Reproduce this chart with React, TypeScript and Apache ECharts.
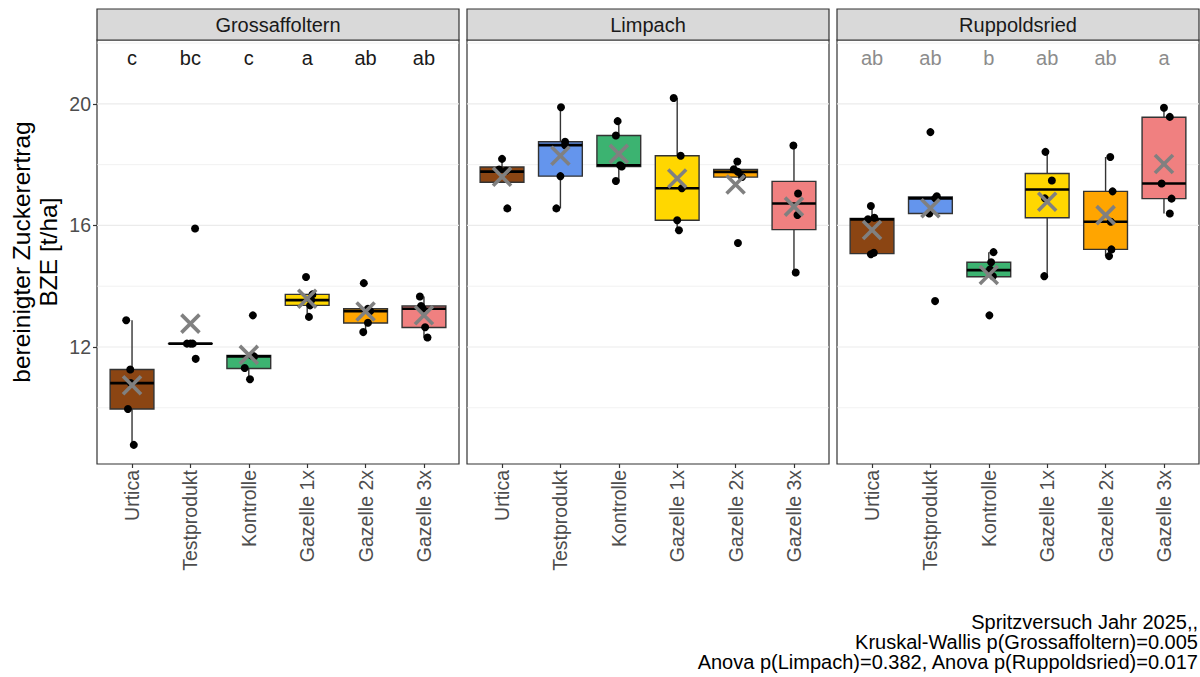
import React, { useEffect, useRef } from "react";
import * as echarts from "echarts";

// ---------- data ----------
const siteNames = ["Grossaffoltern", "Limpach", "Ruppoldsried"];
const treatments = ["Urtica", "Testprodukt", "Kontrolle", "Gazelle 1x", "Gazelle 2x", "Gazelle 3x"];
const fillColors = ["#8B4513", "#6495ED", "#3CB371", "#FFD700", "#FFA500", "#F08080"];
const yTickValues = [12, 16, 20];
const majorGrid = [12, 16, 20];
const minorGrid = [10, 14, 18, 22];

// box stats: [lower whisker, Q1, median, Q3, upper whisker]
const boxGross = [
  [8.78, 9.96, 10.81, 11.26, 12.88],
  [12.11, 12.11, 12.11, 12.11, 12.11],
  [10.94, 11.29, 11.69, 11.72, 11.72],
  [12.99, 13.37, 13.54, 13.73, 13.73],
  [12.49, 12.79, 13.18, 13.26, 13.26],
  [12.31, 12.64, 13.26, 13.35, 13.66],
];
const boxLimpach = [
  [17.42, 17.42, 17.77, 17.92, 18.19],
  [16.56, 17.62, 18.64, 18.75, 19.89],
  [17.46, 17.94, 17.98, 18.96, 19.43],
  [15.84, 16.17, 17.22, 18.29, 20.19],
  [17.59, 17.59, 17.76, 17.84, 18.1],
  [14.45, 15.86, 16.72, 17.45, 18.63],
];
const boxRupp = [
  [15.07, 15.07, 16.2, 16.23, 16.64],
  [16.39, 16.39, 16.89, 16.94, 16.94],
  [14.31, 14.31, 14.53, 14.79, 15.12],
  [14.33, 16.25, 17.18, 17.71, 18.42],
  [14.99, 15.21, 16.12, 17.12, 18.25],
  [16.39, 16.88, 17.38, 19.56, 19.87],
];

// individual plots (values) and their horizontal jitter (category units)
const ptsGross = [
  [12.88, 11.26, 10.81, 9.96, 8.78],
  [15.9, 12.11, 12.11, 12.11, 11.61],
  [13.04, 11.72, 11.69, 11.31, 10.94],
  [14.3, 13.73, 13.54, 13.37, 12.99],
  [14.1, 13.26, 13.18, 12.8, 12.49],
  [13.66, 13.35, 13.26, 12.65, 12.31],
];
const jitGross = [
  [-0.1, -0.03, -0.02, -0.07, 0.03],
  [0.08, 0.0, 0.04, -0.06, 0.09],
  [0.07, 0.05, 0.09, -0.07, 0.02],
  [-0.02, 0.09, 0.07, 0.05, 0.03],
  [-0.03, 0.04, 0.08, 0.04, -0.04],
  [-0.07, -0.05, -0.02, 0.02, 0.06],
];
const ptsLimpach = [
  [18.19, 17.84, 17.8, 16.56],
  [19.89, 18.75, 18.64, 17.62, 16.56],
  [19.43, 18.96, 17.98, 17.94, 17.46],
  [20.19, 18.29, 17.22, 16.17, 15.84],
  [18.1, 17.85, 17.76, 17.59, 15.42],
  [18.63, 17.05, 16.34, 14.45],
];
const jitLimpach = [
  [0.0, -0.05, 0.07, 0.09],
  [0.01, 0.08, 0.08, 0.0, -0.07],
  [-0.02, -0.05, 0.02, 0.05, -0.05],
  [-0.06, 0.06, 0.08, 0.0, 0.03],
  [0.03, -0.03, 0.04, 0.11, 0.04],
  [-0.01, 0.07, 0.06, 0.03],
];
const ptsRupp = [
  [16.64, 16.25, 16.2, 15.1, 15.05],
  [19.07, 16.96, 16.89, 16.39, 13.51],
  [15.12, 14.79, 14.55, 14.33, 13.04],
  [18.42, 17.48, 16.89, 14.33],
  [18.25, 17.12, 16.12, 15.21, 14.99],
  [19.87, 19.57, 17.38, 16.88, 16.39],
];
const jitRupp = [
  [-0.02, 0.04, -0.07, 0.03, -0.02],
  [0.0, 0.11, 0.08, -0.02, 0.08],
  [0.08, 0.04, 0.02, 0.07, 0.01],
  [-0.03, 0.08, -0.04, -0.05],
  [0.08, 0.12, 0.09, 0.1, 0.06],
  [0.0, 0.1, -0.04, 0.13, 0.1],
];

const lettersGross = ["c", "bc", "c", "a", "ab", "ab"];
const lettersLimpach: string[] = [];
const lettersRupp = ["ab", "ab", "b", "ab", "ab", "a"];
const letterColors = ["#1A1A1A", "#1A1A1A", "#8C8C8C"];
const letterY = 21.5;

const captionLines = [
  "Spritzversuch Jahr 2025,,",
  "Kruskal-Wallis p(Grossaffoltern)=0.005",
  "Anova p(Limpach)=0.382, Anova p(Ruppoldsried)=0.017",
];
const yTitle = ["bereinigter Zuckerertrag", "BZE [t/ha]"];

// ---------- layout ----------
const FONT = '"Liberation Sans", Arial, Helvetica, sans-serif';
const gridLefts = [97, 467, 837];
const gridWidth = 362;
const gridTop = 40;
const gridHeight = 424;
const stripTop = 9;
const stripHeight = 31;
const yMin = 8.15;
const yMax = 22.1;

const boxesAll = [boxGross, boxLimpach, boxRupp];
const ptsAll = [ptsGross, ptsLimpach, ptsRupp];
const jitAll = [jitGross, jitLimpach, jitRupp];
const lettersAll = [lettersGross, lettersLimpach, lettersRupp];

function buildOption() {
  const grids: any[] = [];
  const xAxes: any[] = [];
  const yAxes: any[] = [];
  const series: any[] = [];
  const catIdx = treatments.map((_, i) => i);

  for (let k = 0; k < 3; k++) {
    grids.push({
      left: gridLefts[k],
      top: gridTop,
      width: gridWidth,
      height: gridHeight,
      show: true,
      backgroundColor: "#FFFFFF",
      borderColor: "#333333",
      borderWidth: 1.2,
    });
    xAxes.push({
      type: "value",
      gridIndex: k,
      min: -0.6,
      max: 5.6,
      position: "bottom",
      axisLine: { show: false, onZero: false },
      splitLine: { show: false },
      axisTick: {
        show: true,
        customValues: catIdx,
        length: 4,
        lineStyle: { color: "#333333", width: 1.2 },
      },
      axisLabel: {
        show: true,
        customValues: catIdx,
        rotate: 90,
        margin: 6,
        fontSize: 19.5,
        fontFamily: FONT,
        color: "#4D4D4D",
        formatter: (v: number) => treatments[Math.round(v)] ?? "",
      },
    });
    yAxes.push({
      type: "value",
      gridIndex: k,
      min: yMin,
      max: yMax,
      position: "left",
      axisLine: { show: false, onZero: false },
      splitLine: { show: false },
      axisTick: {
        show: k === 0,
        customValues: yTickValues,
        length: 4,
        lineStyle: { color: "#333333", width: 1.2 },
      },
      axisLabel: {
        show: k === 0,
        customValues: yTickValues,
        margin: 6,
        fontSize: 19.5,
        fontFamily: FONT,
        color: "#4D4D4D",
      },
    });

    // grid lines
    series.push({
      type: "custom",
      xAxisIndex: k,
      yAxisIndex: k,
      z: 1,
      silent: true,
      encode: { x: 0, y: 1 },
      data: [...majorGrid.map((v) => [0, v, 1]), ...minorGrid.map((v) => [0, v, 0])],
      renderItem: (params: any, api: any) => {
        const cs = params.coordSys;
        const y = api.coord([0, api.value(1)])[1];
        const major = api.value(2) === 1;
        return {
          type: "line",
          shape: { x1: cs.x, y1: y, x2: cs.x + cs.width, y2: y },
          style: { stroke: "#EBEBEB", lineWidth: major ? 1.2 : 0.7 },
        };
      },
    });

    // boxes
    series.push({
      type: "custom",
      xAxisIndex: k,
      yAxisIndex: k,
      z: 2,
      silent: true,
      encode: { x: 0, y: [1, 2, 3, 4, 5] },
      data: boxesAll[k].map((b, i) => [i, ...b, i]),
      renderItem: (_params: any, api: any) => {
        const i = api.value(0);
        const lo = api.value(1);
        const q1 = api.value(2);
        const med = api.value(3);
        const q3 = api.value(4);
        const hi = api.value(5);
        const ci = api.value(6);
        const c = api.coord([i, med]);
        const xl = api.coord([i - 0.375, med])[0];
        const xr = api.coord([i + 0.375, med])[0];
        const yLo = api.coord([i, lo])[1];
        const yQ1 = api.coord([i, q1])[1];
        const yQ3 = api.coord([i, q3])[1];
        const yHi = api.coord([i, hi])[1];
        const stroke = { stroke: "#333333", lineWidth: 1.4 };
        return {
          type: "group",
          children: [
            { type: "line", shape: { x1: c[0], y1: yQ3, x2: c[0], y2: yHi }, style: stroke },
            { type: "line", shape: { x1: c[0], y1: yQ1, x2: c[0], y2: yLo }, style: stroke },
            {
              type: "rect",
              shape: { x: xl, y: yQ3, width: xr - xl, height: Math.max(yQ1 - yQ3, 0.01) },
              style: { fill: fillColors[ci], stroke: "#333333", lineWidth: 1.4 },
            },
            {
              type: "line",
              shape: { x1: xl, y1: c[1], x2: xr, y2: c[1] },
              style: { stroke: "#000000", lineWidth: 2.6 },
            },
          ],
        };
      },
    });

    // points
    const pts: number[][] = [];
    ptsAll[k].forEach((arr, i) => {
      arr.forEach((v, j) => pts.push([i + jitAll[k][i][j], v]));
    });
    series.push({
      type: "scatter",
      xAxisIndex: k,
      yAxisIndex: k,
      z: 3,
      silent: true,
      symbol: "circle",
      symbolSize: 8,
      itemStyle: { color: "#000000", opacity: 1 },
      data: pts,
    });

    // means (X)
    const means = ptsAll[k].map((arr, i) => [i, arr.reduce((a, b) => a + b, 0) / arr.length]);
    series.push({
      type: "custom",
      xAxisIndex: k,
      yAxisIndex: k,
      z: 4,
      silent: true,
      encode: { x: 0, y: 1 },
      data: means,
      renderItem: (_params: any, api: any) => {
        const p = api.coord([api.value(0), api.value(1)]);
        const h = 9;
        const st = { stroke: "#808080", lineWidth: 3.6 };
        return {
          type: "group",
          children: [
            { type: "line", shape: { x1: p[0] - h, y1: p[1] - h, x2: p[0] + h, y2: p[1] + h }, style: st },
            { type: "line", shape: { x1: p[0] - h, y1: p[1] + h, x2: p[0] + h, y2: p[1] - h }, style: st },
          ],
        };
      },
    });

    // significance letters
    const letters = lettersAll[k];
    if (letters.length) {
      series.push({
        type: "custom",
        xAxisIndex: k,
        yAxisIndex: k,
        z: 4,
        silent: true,
        encode: { x: 0, y: 1 },
        data: letters.map((_, i) => [i, letterY]),
        renderItem: (params: any, api: any) => {
          const p = api.coord([api.value(0), api.value(1)]);
          return {
            type: "text",
            x: p[0],
            y: p[1],
            style: {
              text: letters[params.dataIndex],
              fill: letterColors[k],
              fontSize: 20,
              fontFamily: FONT,
              align: "center",
              verticalAlign: "middle",
            },
          };
        },
      });
    }
  }

  const graphics: any[] = [];
  for (let k = 0; k < 3; k++) {
    graphics.push({
      type: "rect",
      silent: true,
      shape: { x: gridLefts[k], y: stripTop, width: gridWidth, height: stripHeight },
      style: { fill: "#D9D9D9", stroke: "#333333", lineWidth: 1.2 },
    });
    graphics.push({
      type: "text",
      silent: true,
      x: gridLefts[k] + gridWidth / 2,
      y: stripTop + stripHeight / 2,
      style: {
        text: siteNames[k],
        fill: "#1A1A1A",
        fontSize: 20,
        fontFamily: FONT,
        align: "center",
        verticalAlign: "middle",
        textAlign: "center",
        textVerticalAlign: "middle",
      },
    });
  }
  graphics.push({
    type: "text",
    silent: true,
    x: 35,
    y: gridTop + gridHeight / 2,
    rotation: Math.PI / 2,
    style: {
      text: yTitle.join("\n"),
      fill: "#000000",
      fontSize: 24.5,
      lineHeight: 27,
      fontFamily: FONT,
      align: "center",
      verticalAlign: "middle",
      textAlign: "center",
      textVerticalAlign: "middle",
    },
  });
  graphics.push({
    type: "text",
    silent: true,
    x: 1198,
    y: 642,
    style: {
      text: captionLines.join("\n"),
      fill: "#000000",
      fontSize: 20,
      lineHeight: 20,
      fontFamily: FONT,
      align: "right",
      verticalAlign: "middle",
      textAlign: "right",
      textVerticalAlign: "middle",
    },
  });

  return {
    animation: false,
    backgroundColor: "#FFFFFF",
    textStyle: { fontFamily: FONT },
    grid: grids,
    xAxis: xAxes,
    yAxis: yAxes,
    series,
    graphic: graphics,
  };
}

export default function App() {
  const ref = useRef<HTMLDivElement>(null);
  useEffect(() => {
    if (!ref.current) return;
    const chart = echarts.init(ref.current, undefined, { renderer: "svg" });
    chart.setOption(buildOption() as any);
    return () => chart.dispose();
  }, []);
  return (
    <div
      ref={ref}
      style={{ position: "absolute", left: 0, top: 0, width: 1200, height: 677, background: "#fff" }}
    />
  );
}
